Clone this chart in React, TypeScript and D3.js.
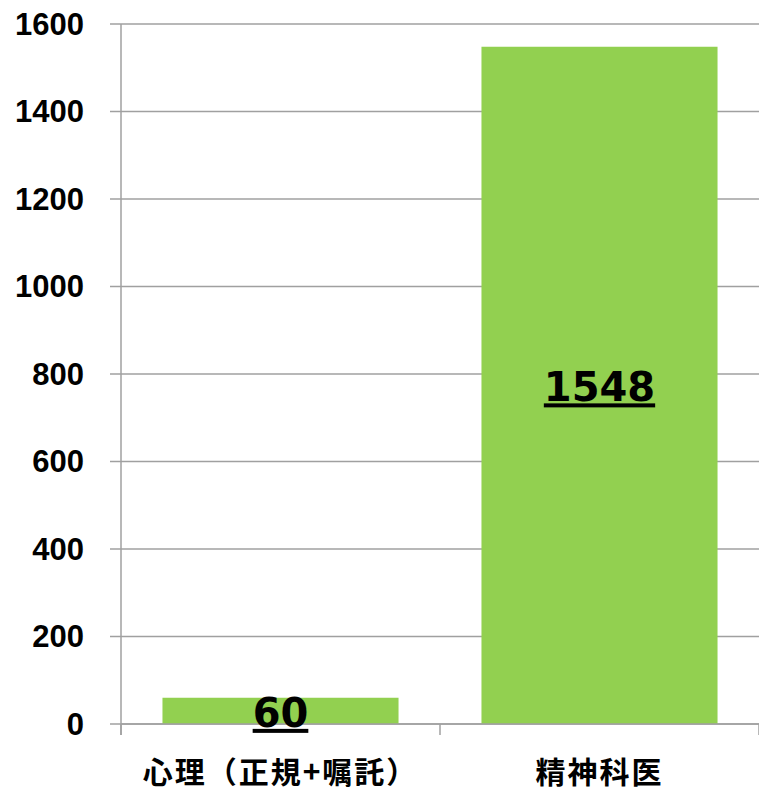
import React from "react";
import * as d3 from "d3";

// data
const categories = ["心理（正規+嘱託）", "精神科医"];
const counts = [60, 1548];
const yTicks = [0, 200, 400, 600, 800, 1000, 1200, 1400, 1600];

const width = 759;
const height = 788;
const margin = { top: 24, right: 0, bottom: 64, left: 121 };

const App: React.FC = () => {
  const innerW = width - margin.left - margin.right;
  const innerH = height - margin.top - margin.bottom;

  const x = d3
    .scaleBand<string>()
    .domain(categories)
    .range([0, innerW])
    .paddingInner(0.26)
    .paddingOuter(0.13);

  const y = d3.scaleLinear().domain([0, 1600]).range([innerH, 0]);

  // category boundaries for the x ticks
  const step = innerW / categories.length;
  const xBounds = d3.range(categories.length + 1).map((i) => i * step);

  const gridColor = "#a0a0a0";
  const numFont = "'Liberation Sans', Arial, sans-serif";
  const labelFont = "'DejaVu Sans', Verdana, sans-serif";
  const cjkFont = "'Noto Sans CJK JP', sans-serif";

  return (
    <div style={{ position: "absolute", left: 0, top: 0 }}>
      <svg width={width} height={height} style={{ display: "block", background: "#fff" }}>
        <g transform={`translate(${margin.left},${margin.top})`}>
          {/* gridlines + y ticks */}
          {yTicks.map((t) => (
            <g key={t} transform={`translate(0,${y(t)})`}>
              <line x1={-11} x2={innerW} stroke={gridColor} strokeWidth={1.5} />
              <text
                x={-37}
                y={10.5}
                textAnchor="end"
                fontFamily={numFont}
                fontWeight="bold"
                fontSize={31}
                fill="#000"
              >
                {t}
              </text>
            </g>
          ))}

          {/* y axis line */}
          <line x1={0} x2={0} y1={0} y2={innerH + 11} stroke={gridColor} strokeWidth={1.5} />

          {/* bars */}
          {categories.map((c, i) => (
            <rect
              key={c}
              x={x(c)}
              y={y(counts[i])}
              width={x.bandwidth()}
              height={y(0) - y(counts[i])}
              fill="#92D050"
            />
          ))}

          {/* x axis */}
          <line x1={0} x2={innerW} y1={y(0)} y2={y(0)} stroke={gridColor} strokeWidth={1.5} />
          {xBounds.map((b, i) => (
            <line
              key={i}
              x1={b}
              x2={b}
              y1={y(0)}
              y2={y(0) + 11}
              stroke={gridColor}
              strokeWidth={1.5}
            />
          ))}

          {/* value labels */}
          {categories.map((c, i) => (
            <text
              key={c}
              x={(x(c) ?? 0) + x.bandwidth() / 2}
              y={(y(counts[i]) + y(0)) / 2 + 16}
              textAnchor="middle"
              fontFamily={labelFont}
              fontWeight="bold"
              fontSize={40}
              fill="#000"
              style={{ textDecoration: "underline" }}
            >
              {counts[i]}
            </text>
          ))}

          {/* category labels */}
          {categories.map((c) => (
            <text
              key={c}
              x={(x(c) ?? 0) + x.bandwidth() / 2}
              y={innerH + 59}
              textAnchor="middle"
              fontFamily={cjkFont}
              fontWeight="bold"
              fontSize={30}
              letterSpacing={2}
              fill="#000"
            >
              {c}
            </text>
          ))}
        </g>
      </svg>
    </div>
  );
};

export default App;
